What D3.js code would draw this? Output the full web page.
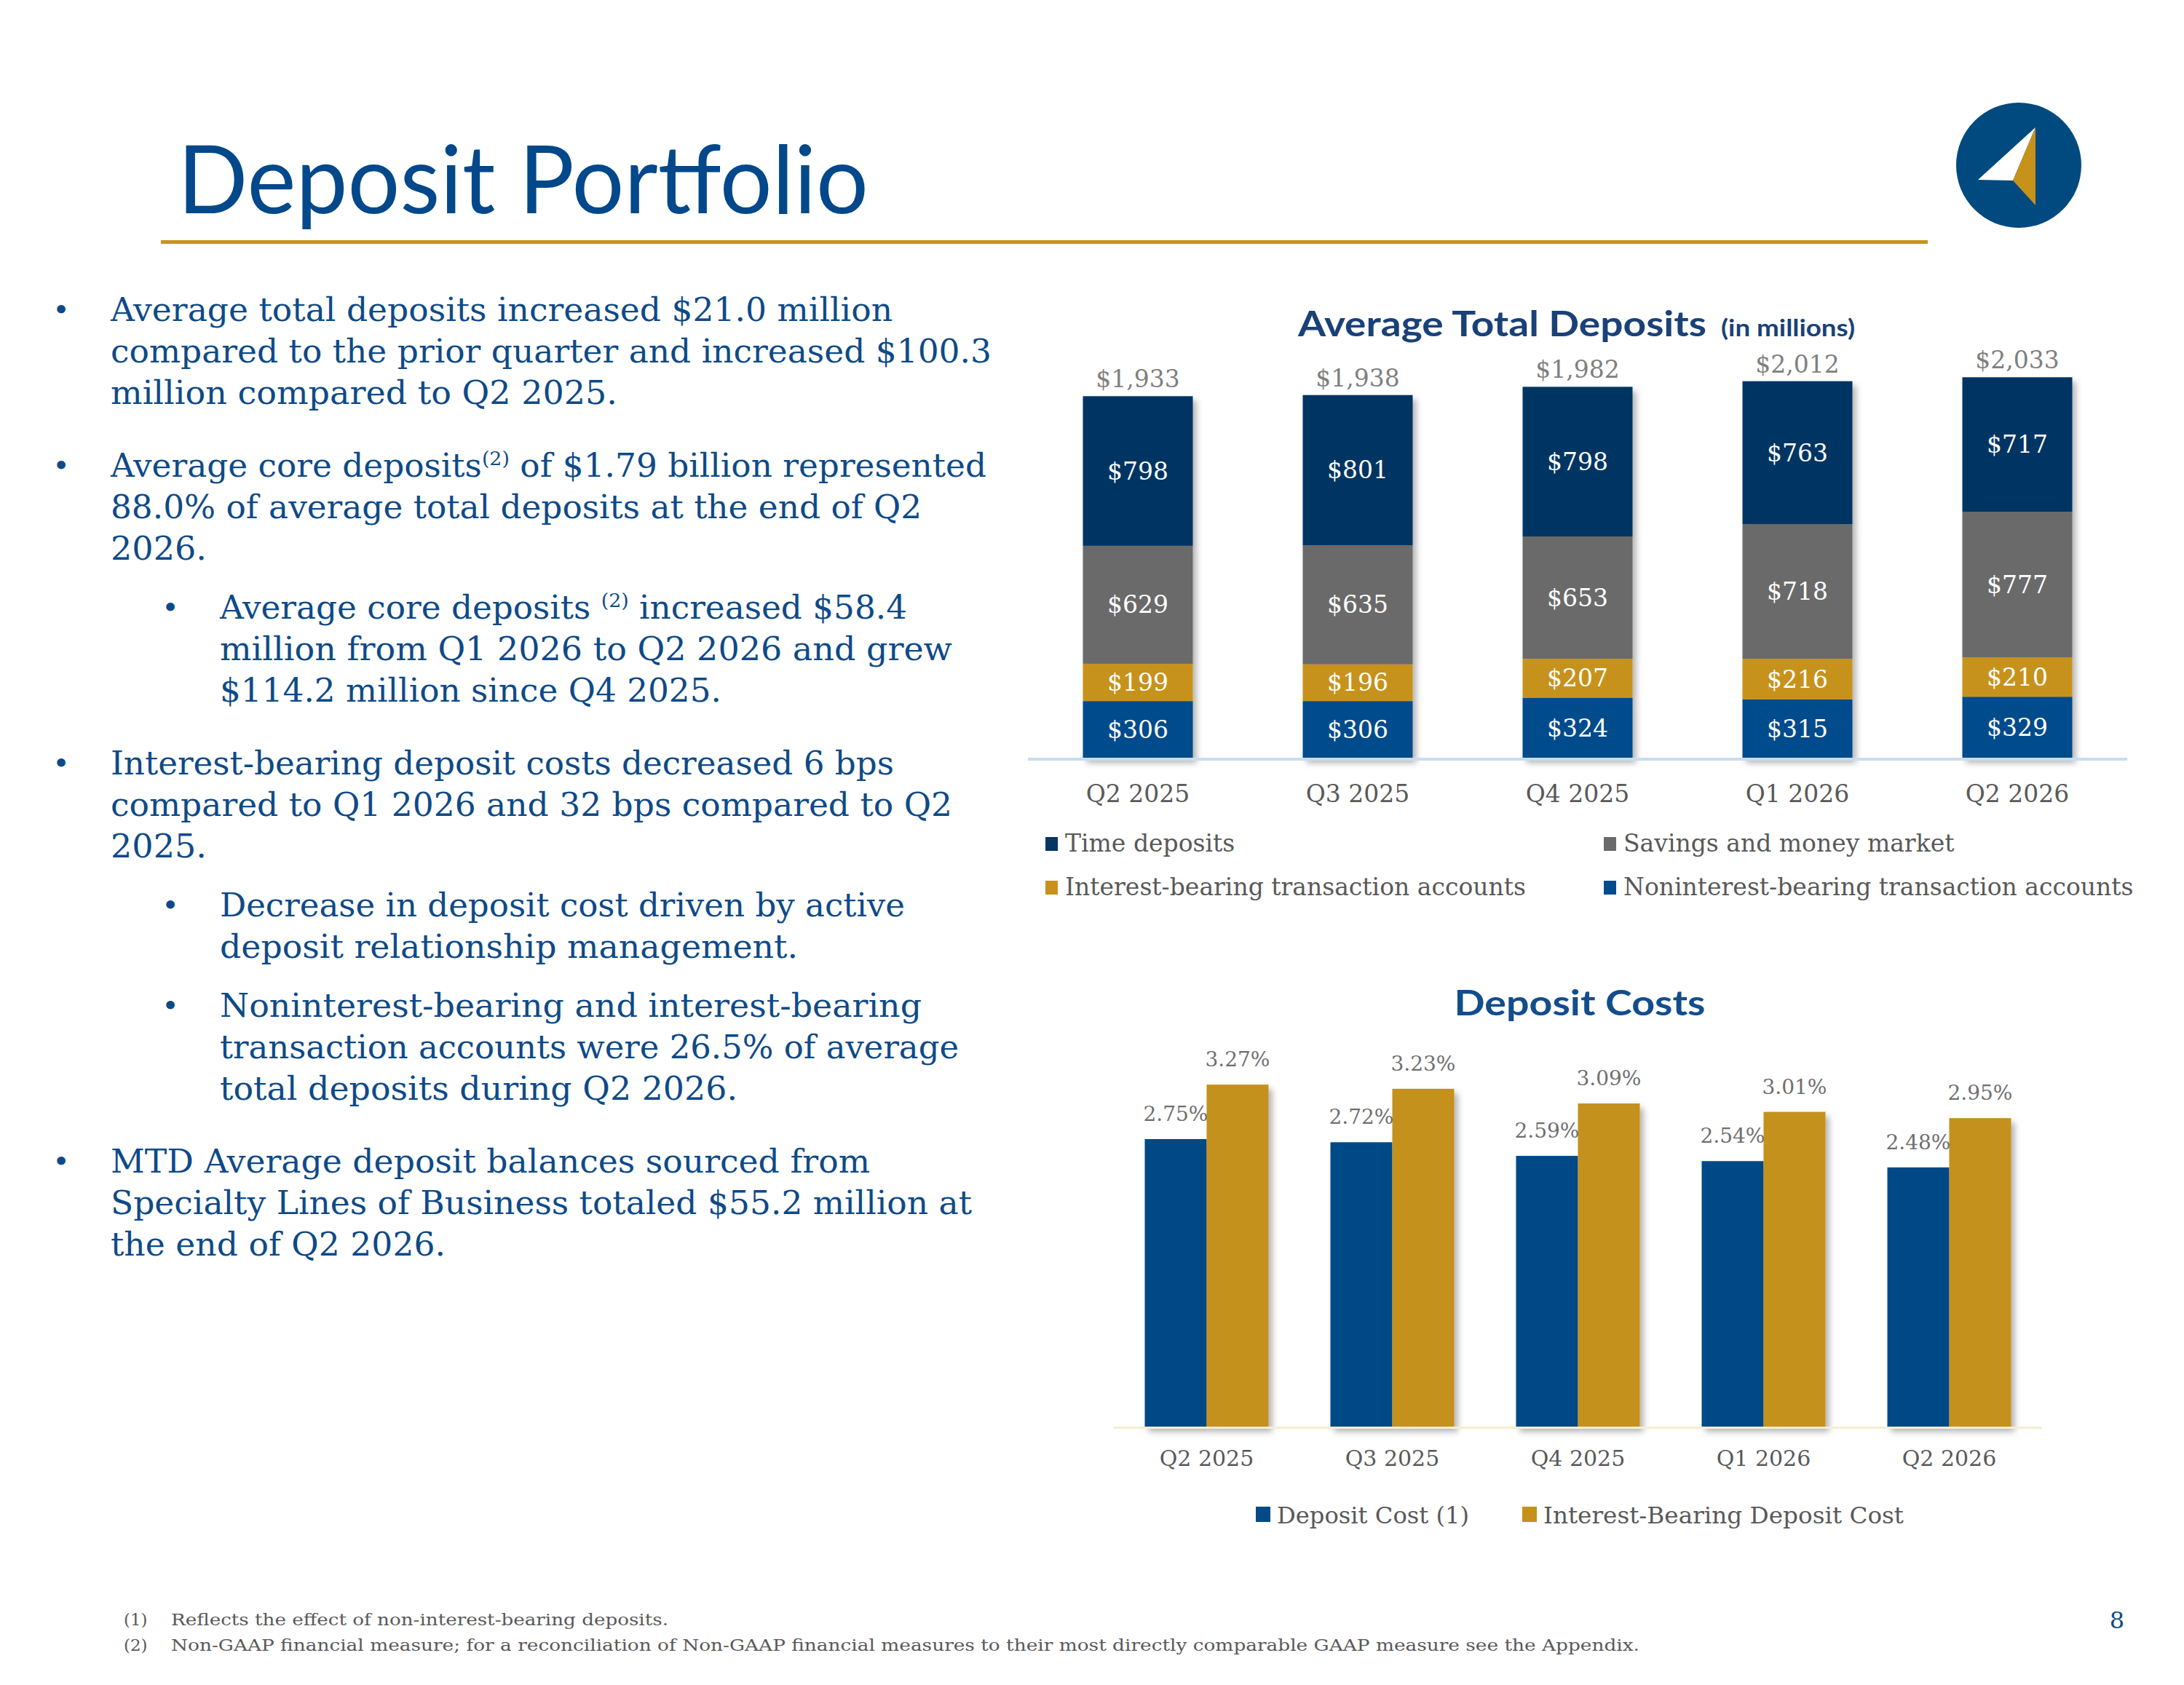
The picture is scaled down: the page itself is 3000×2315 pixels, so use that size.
<!DOCTYPE html>
<html><head><meta charset="utf-8">
<script src="https://cdn.jsdelivr.net/npm/d3@7"></script>
<style>body{margin:0;background:#fff;} svg{display:block;}</style>
</head><body>
<svg id="c" width="3000" height="2315"></svg>
<script>
// ---------- DATA ----------
const categories = ["Q2 2025","Q3 2025","Q4 2025","Q1 2026","Q2 2026"];
const nonInterestBearing = [306,306,324,315,329];
const interestBearing = [199,196,207,216,210];
const savingsMoneyMarket = [629,635,653,718,777];
const timeDeposits = [798,801,798,763,717];
const totalDeposits = [1933,1938,1982,2012,2033];
const depositSeriesNames = ["Noninterest-bearing transaction accounts","Interest-bearing transaction accounts","Savings and money market","Time deposits"];

const depositCost = [2.75,2.72,2.59,2.54,2.48];
const interestBearingCost = [3.27,3.23,3.09,3.01,2.95];
const costSeriesNames = ["Deposit Cost (1)","Interest-Bearing Deposit Cost"];

const bulletLevels = [0,0,1,0,1,1,0];
const bulletLines = [
 ["Average total deposits increased $21.0 million","compared to the prior quarter and increased $100.3","million compared to Q2 2025."],
 ["Average core deposits^(2)^ of $1.79 billion represented","88.0% of average total deposits at the end of Q2","2026."],
 ["Average core deposits ^(2)^ increased $58.4","million from Q1 2026 to Q2 2026 and grew","$114.2 million since Q4 2025."],
 ["Interest-bearing deposit costs decreased 6 bps","compared to Q1 2026 and 32 bps compared to Q2","2025."],
 ["Decrease in deposit cost driven by active","deposit relationship management."],
 ["Noninterest-bearing and interest-bearing","transaction accounts were 26.5% of average","total deposits during Q2 2026."],
 ["MTD Average deposit balances sourced from","Specialty Lines of Business totaled $55.2 million at","the end of Q2 2026."]
];
const footnotes = [["(1)","Reflects the effect of non-interest-bearing deposits."],
 ["(2)","Non-GAAP financial measure; for a reconciliation of Non-GAAP financial measures to their most directly comparable GAAP measure see the Appendix."]];

// ---------- LAYOUT / STYLE ----------
const lineRightEdges = [[1226,1362,848],[1355,1266,284],[1246,1308,991],[1228,1308,284],[1243,1096],[1266,1317,1013],[1195,1335,612]];
const C = {
  title:"#02488A", body:"#0E4A88", navy:"#053664", gray:"#6B6B6B", gold:"#C7921A", blue:"#024B8C",
  cBlue:"#034A87", cGold:"#C4911A", label:"#595959", total:"#7F7F7F", costLbl:"#6F6F6F"
};
const SERIF = "'DejaVu Serif', serif";
const svg = d3.select("#c");
const defs = svg.append("defs");
const f = defs.append("filter").attr("id","sh").attr("x","-20%").attr("y","-20%").attr("width","150%").attr("height","150%");
f.append("feDropShadow").attr("dx",5).attr("dy",6).attr("stdDeviation",4).attr("flood-color","#000").attr("flood-opacity",0.3);

// ---------- HEADER ----------
svg.append("text").attr("x",244).attr("y",293).attr("font-family","Lato, sans-serif").attr("font-size",130)
  .attr("fill",C.title).attr("textLength",949).attr("lengthAdjust","spacingAndGlyphs").text("Deposit Portfolio");
svg.append("rect").attr("x",221).attr("y",330).attr("width",2427).attr("height",5).attr("fill",C.gold);
const logo = svg.append("g");
logo.append("circle").attr("cx",2773).attr("cy",227).attr("r",86).attr("fill","#004A80");
logo.append("polygon").attr("points","2796,175 2717,247 2765,248").attr("fill","#fff");
logo.append("polygon").attr("points","2796,175 2765,248 2796,282").attr("fill",C.gold);

// ---------- BULLETS ----------
let yb = 441;
bulletLines.forEach((lines,bi)=>{
  const lvl = bulletLevels[bi];
  if (bi>0) yb += (lvl===0 ? 100 : 81);
  const bx = lvl===0 ? 84 : 234, tx = lvl===0 ? 152 : 302;
  svg.append("text").attr("x",bx).attr("y",yb-2).attr("font-family",SERIF).attr("font-size",40)
     .attr("fill",C.body).attr("text-anchor","middle").text("•");
  lines.forEach((ln,li)=>{
    const t = svg.append("text").attr("x",tx).attr("y",yb).attr("font-family",SERIF).attr("font-size",44)
      .attr("fill",C.body).attr("textLength",lineRightEdges[bi][li]-tx).attr("lengthAdjust","spacingAndGlyphs");
    const parts = ln.split("^");
    parts.forEach((p,pi)=>{
      if (pi%2===1) t.append("tspan").attr("font-size",26).attr("dy",-16).text(p);
      else t.append("tspan").attr("dy", pi>0 ? 16 : 0).text(p);
    });
    yb += 57;
  });
  yb -= 57;
});

// ---------- STACKED CHART ----------
svg.append("text").attr("x",1783).attr("y",462).attr("font-family","Lato, sans-serif").attr("font-weight",700)
  .attr("font-size",48).attr("fill","#1A4178").attr("textLength",561).attr("lengthAdjust","spacingAndGlyphs")
  .text("Average Total Deposits");
svg.append("text").attr("x",2364).attr("y",462).attr("font-family","Lato, sans-serif").attr("font-weight",700)
  .attr("font-size",33).attr("fill","#1A4178").attr("textLength",184).attr("lengthAdjust","spacingAndGlyphs")
  .text("(in millions)");
const x = d3.scaleBand().domain(categories).range([1412,2922]).paddingInner(0.5).paddingOuter(0.25);
const y = d3.scaleLinear().domain([0,2000]).range([1042,1042-2000*0.2576]);
const stackRows = categories.map((c,i)=>({cat:c, n:nonInterestBearing[i], i:interestBearing[i], s:savingsMoneyMarket[i], t:timeDeposits[i]}));
const stacked = d3.stack().keys(["n","i","s","t"])(stackRows);
const segColors = {n:C.blue, i:C.gold, s:C.gray, t:C.navy};
const barG = svg.append("g");
categories.forEach((c,ci)=>{
  const g = barG.append("g").attr("filter","url(#sh)");
  stacked.forEach(layer=>{
    const d = layer[ci];
    g.append("rect").attr("x",x(c)).attr("width",x.bandwidth()).attr("y",y(d[1])).attr("height",y(d[0])-y(d[1]))
      .attr("fill",segColors[layer.key]);
  });
});
stacked.forEach(layer=>{
  layer.forEach((d,ci)=>{
    svg.append("text").attr("x",x(categories[ci])+x.bandwidth()/2).attr("y",(y(d[0])+y(d[1]))/2)
      .attr("dy","0.35em").attr("text-anchor","middle").attr("font-family",SERIF).attr("font-size",33)
      .attr("fill","#fff").text("$"+(d[1]-d[0]));
  });
});
const stackTop = stacked[stacked.length-1];
totalDeposits.forEach((v,ci)=>{
  svg.append("text").attr("x",x(categories[ci])+x.bandwidth()/2).attr("y",y(stackTop[ci][1])-12)
    .attr("text-anchor","middle").attr("font-family",SERIF).attr("font-size",33).attr("fill",C.total)
    .text("$"+d3.format(",")(v));
});
svg.append("rect").attr("x",1412).attr("y",1041).attr("width",1510).attr("height",4).attr("fill","#C7DDF1");
const xAxis = svg.append("g").attr("transform","translate(0,1042)")
  .call(d3.axisBottom(x).tickSize(0).tickPadding(37));
xAxis.select(".domain").remove();
xAxis.selectAll("text").attr("font-family",SERIF).attr("font-size",33).attr("fill",C.label);
// legend
const legendOrder = [[3,1436,1170],[2,2203,1170],[1,1436,1230],[0,2203,1230]];
const legendColors = [C.blue,C.gold,C.gray,C.navy];
legendOrder.forEach(([si,lx,ly])=>{
  svg.append("rect").attr("x",lx).attr("y",ly-20).attr("width",17).attr("height",19).attr("fill",legendColors[si]);
  svg.append("text").attr("x",lx+27).attr("y",ly).attr("font-family",SERIF).attr("font-size",33)
    .attr("fill",C.label).text(depositSeriesNames[si]);
});

// ---------- DEPOSIT COSTS CHART ----------
svg.append("text").attr("x",2170).attr("y",1395).attr("text-anchor","middle").attr("font-family","Lato, sans-serif")
  .attr("font-weight",700).attr("font-size",48).attr("fill","#134D8C").attr("textLength",345)
  .attr("lengthAdjust","spacingAndGlyphs").text("Deposit Costs");
const x0 = d3.scaleBand().domain(categories).range([1530,2805]).paddingInner(1/3).paddingOuter(1/6);
const x1 = d3.scaleBand().domain([0,1]).range([0,x0.bandwidth()]);
const yc = d3.scaleLinear().domain([0,3.5]).range([1961,1961-3.5*144]);
const costSeries = [depositCost, interestBearingCost];
const costColors = [C.cBlue, C.cGold];
costSeries.forEach((vals,si)=>{
  vals.forEach((v,ci)=>{
    svg.append("rect").attr("x",x0(categories[ci])+x1(si)).attr("width",x1.bandwidth())
      .attr("y",yc(v)).attr("height",yc(0)-yc(v)).attr("fill",costColors[si]).attr("filter","url(#sh)");
  });
});
costSeries.forEach((vals,si)=>{
  vals.forEach((v,ci)=>{
    svg.append("text").attr("x",x0(categories[ci])+x1(si)+x1.bandwidth()/2).attr("y",yc(v)-25)
      .attr("text-anchor","middle").attr("font-family",SERIF).attr("font-size",28).attr("fill",C.costLbl)
      .text(d3.format(".2f")(v)+"%");
  });
});
svg.append("rect").attr("x",1530).attr("y",1960).attr("width",1275).attr("height",3).attr("fill","#F6EDD3");
const xAxis2 = svg.append("g").attr("transform","translate(0,1961)")
  .call(d3.axisBottom(x0).tickSize(0).tickPadding(32));
xAxis2.select(".domain").remove();
xAxis2.selectAll("text").attr("font-family",SERIF).attr("font-size",30).attr("fill",C.label);
[[0,1725,2018],[1,2091,2615]].forEach(([si,lx,rx])=>{
  svg.append("rect").attr("x",lx).attr("y",2070).attr("width",20).attr("height",21).attr("fill",costColors[si]);
  svg.append("text").attr("x",lx+29).attr("y",2093).attr("font-family",SERIF).attr("font-size",31)
    .attr("fill",C.label).attr("textLength",rx-lx-29).attr("lengthAdjust","spacingAndGlyphs").text(costSeriesNames[si]);
});

// ---------- FOOTNOTES ----------
const fnEnds = [918,2252];
footnotes.forEach(([n,t],i)=>{
  const fy = 2233 + i*35;
  svg.append("text").attr("x",170).attr("y",fy).attr("font-family",SERIF).attr("font-size",23).attr("fill",C.label).text(n);
  svg.append("text").attr("x",235).attr("y",fy).attr("font-family",SERIF).attr("font-size",23).attr("fill",C.label)
    .attr("textLength",fnEnds[i]-235).attr("lengthAdjust","spacingAndGlyphs").text(t);
});
svg.append("text").attr("x",2918).attr("y",2237).attr("text-anchor","end").attr("font-family",SERIF)
  .attr("font-size",32).attr("fill",C.body).text("8");
</script>
</body></html>
